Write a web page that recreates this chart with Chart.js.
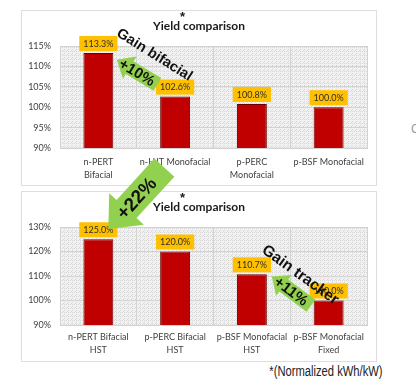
<!DOCTYPE html>
<html>
<head>
<meta charset="utf-8">
<script src="https://cdn.jsdelivr.net/npm/chart.js@4.4.1/dist/chart.umd.min.js"></script>
<style>
  body { margin: 0; background: #fff; width: 416px; height: 388px; overflow: hidden; position: relative; }
  .panel { position: absolute; border: 1px solid #dedede; background: #fff; }
  #panelTop { left: 21px; top: 10px; width: 354px; height: 174px; }
  #panelBot { left: 21px; top: 191px; width: 354px; height: 169px; }
  #overlay { position: absolute; left: 0; top: 0; z-index: 5; pointer-events: none; }
  #note { position: absolute; right: 33px; top: 363px; font: 14px "Liberation Sans", Arial, sans-serif; color: #222;
          transform: scaleX(0.8); transform-origin: right center; white-space: nowrap; }
  #edge { position: absolute; left: 411px; top: 122px; font: 12px "Liberation Sans", Arial, sans-serif; color: #999; }
</style>
</head>
<body>
<div class="panel" id="panelTop"><canvas id="yieldTop"></canvas></div>
<div class="panel" id="panelBot"><canvas id="yieldBot"></canvas></div>
<canvas id="overlay" width="416" height="388"></canvas>
<div id="note">*(Normalized kWh/kW)</div>
<div id="edge">C</div>
<script>
// dados
var categoriasTop = [['n-PERT', 'Bifacial'], 'n-HJT Monofacial', ['p-PERC', 'Monofacial'], 'p-BSF Monofacial'];
var yieldTop = [113.3, 102.6, 100.8, 100.0];
var ticksTop = [90, 95, 100, 105, 110, 115];

var categoriasBot = [['n-PERT Bifacial', 'HST'], ['p-PERC Bifacial', 'HST'], ['p-BSF Monofacial', 'HST'], ['p-BSF Monofacial', 'Fixed']];
var yieldBot = [125.0, 120.0, 110.7, 100.0];
var ticksBot = [90, 100, 110, 120, 130];

var tituloGrafico = 'Yield comparison';

// setas verdes (posicao em unidades de categoria / valor)
var setas = [
    { tail: ['top', 0.77, 105.6], tip: ['top', 0.24, 111.6], shaft: 15, head: 26, headLen: 15, label: '+10%', size: 15 },
    { tail: ['top', 0.86, 85.2], tip: ['bot', 0.13, 129.2], shaft: 27, head: 47, headLen: 27, label: '+22%', size: 19 },
    { tail: ['bot', 2.77, 97.9], tip: ['bot', 2.26, 109.8], shaft: 15, head: 26, headLen: 15, label: '+11%', size: 15 }
];
var textosGanho = [
    { at: ['top', 0.73, 112.8], angle: 32, text: 'Gain bifacial', size: 14.5 },
    { at: ['bot', 2.63, 110.4], angle: 36, text: 'Gain tracker', size: 15.5 }
];

var graficos = {};

var padrao = (function () {
    var c = document.createElement('canvas');
    c.width = 4; c.height = 4;
    var g = c.getContext('2d');
    g.fillStyle = '#f1f1f1';
    g.fillRect(0, 0, 4, 4);
    g.fillStyle = '#d8d8d8';
    g.fillRect(0, 0, 1, 1); g.fillRect(2, 2, 1, 1); g.fillRect(2, 0, 1, 1); g.fillRect(1, 3, 1, 1);
    return g.createPattern(c, 'repeat');
})();

var fundoPlot = {
    id: 'fundoPlot',
    beforeDraw: function (chart) {
        var a = chart.chartArea, ctx = chart.ctx;
        ctx.save();
        ctx.fillStyle = padrao;
        ctx.fillRect(a.left, a.top, a.right - a.left, a.bottom - a.top);
        ctx.restore();
    }
};

var tituloPlugin = {
    id: 'tituloPlugin',
    afterDraw: function (chart) {
        var ctx = chart.ctx;
        ctx.save();
        ctx.font = 'bold 12px Lato';
        ctx.fillStyle = '#1a1a1a';
        ctx.textAlign = 'center';
        ctx.textBaseline = 'middle';
        var cx = chart.width / 2;
        ctx.fillText(tituloGrafico, cx, 15);
        var w = ctx.measureText(tituloGrafico).width;
        var wYield = ctx.measureText('Yield').width;
        ctx.font = 'bold 13px "Liberation Sans"';
        ctx.textAlign = 'left';
        ctx.fillText('*', cx - w / 2 + wYield, 6);
        ctx.restore();
    }
};

var rotulosPlugin = {
    id: 'rotulosPlugin',
    afterDatasetsDraw: function (chart) {
        var ctx = chart.ctx;
        var meta = chart.getDatasetMeta(0);
        var dados = chart.data.datasets[0].data;
        ctx.save();
        ctx.font = '9px Lato';
        ctx.textAlign = 'center';
        ctx.textBaseline = 'middle';
        meta.data.forEach(function (bar, i) {
            var txt = dados[i].toFixed(1) + '%';
            var w = ctx.measureText(txt).width + 8;
            var h = 15;
            var base = bar.y - 2;
            ctx.fillStyle = '#ffc000';
            ctx.fillRect(bar.x - w / 2, base - h, w, h);
            ctx.fillStyle = '#2e2e2e';
            ctx.fillText(txt, bar.x, base - h / 2 + 0.5);
        });
        ctx.restore();
    }
};

function criarGrafico(idCanvas, categorias, valores, ticks, alturaX, alturaLinha, padX) {
    return new Chart(document.getElementById(idCanvas), {
        type: 'bar',
        data: {
            labels: categorias,
            datasets: [{
                data: valores,
                backgroundColor: '#c00000',
                borderColor: '#6e0000',
                borderWidth: 1,
                barPercentage: 0.39,
                categoryPercentage: 1
            }]
        },
        options: {
            responsive: true,
            maintainAspectRatio: false,
            animation: false,
            layout: { padding: { top: 35, right: 9, left: 0, bottom: 0 } },
            plugins: { legend: { display: false }, tooltip: { enabled: false } },
            scales: {
                x: {
                    grid: { color: '#d2d2d2', drawTicks: false },
                    border: { color: '#d2d2d2' },
                    ticks: { color: '#404040', font: { family: 'Lato', size: 9, lineHeight: alturaLinha }, padding: padX, maxRotation: 0, autoSkip: false },
                    afterFit: function (s) { s.height = alturaX; }
                },
                y: {
                    min: ticks[0],
                    max: ticks[ticks.length - 1],
                    afterBuildTicks: function (s) { s.ticks = ticks.map(function (v) { return { value: v }; }); },
                    grid: { color: '#d2d2d2', drawTicks: false },
                    border: { color: '#d2d2d2' },
                    ticks: { color: '#404040', font: { family: 'Lato', size: 9 }, padding: 9,
                        callback: function (v) { return v + '%'; } },
                    afterFit: function (s) { s.width = 38; }
                }
            }
        },
        plugins: [fundoPlot, tituloPlugin, rotulosPlugin]
    });
}

function ponto(ref) {
    var chart = graficos[ref[0]];
    var r = chart.canvas.getBoundingClientRect();
    return { x: r.left + chart.scales.x.getPixelForValue(ref[1]), y: r.top + chart.scales.y.getPixelForValue(ref[2]) };
}

function desenharSeta(ctx, s) {
    var t = ponto(s.tail), p = ponto(s.tip);
    var dx = p.x - t.x, dy = p.y - t.y, len = Math.sqrt(dx * dx + dy * dy);
    var ux = dx / len, uy = dy / len, nx = -uy, ny = ux;
    var bx = p.x - ux * s.headLen, by = p.y - uy * s.headLen;
    ctx.beginPath();
    ctx.moveTo(t.x + nx * s.shaft / 2, t.y + ny * s.shaft / 2);
    ctx.lineTo(bx + nx * s.shaft / 2, by + ny * s.shaft / 2);
    ctx.lineTo(bx + nx * s.head / 2, by + ny * s.head / 2);
    ctx.lineTo(p.x, p.y);
    ctx.lineTo(bx - nx * s.head / 2, by - ny * s.head / 2);
    ctx.lineTo(bx - nx * s.shaft / 2, by - ny * s.shaft / 2);
    ctx.lineTo(t.x - nx * s.shaft / 2, t.y - ny * s.shaft / 2);
    ctx.closePath();
    ctx.fillStyle = '#92d050';
    ctx.fill();

    ctx.save();
    ctx.translate((t.x + p.x) / 2, (t.y + p.y) / 2);
    ctx.rotate(Math.atan2(t.y - p.y, t.x - p.x));
    ctx.font = 'bold ' + s.size + 'px "Liberation Sans"';
    ctx.fillStyle = '#111';
    ctx.textAlign = 'center';
    ctx.textBaseline = 'middle';
    ctx.fillText(s.label, 0, 1);
    ctx.restore();
}

function desenharOverlay() {
    var ctx = document.getElementById('overlay').getContext('2d');
    ctx.clearRect(0, 0, 416, 388);
    setas.forEach(function (s) { desenharSeta(ctx, s); });
    textosGanho.forEach(function (g) {
        var c = ponto(g.at);
        ctx.save();
        ctx.translate(c.x, c.y);
        ctx.rotate(g.angle * Math.PI / 180);
        ctx.font = 'bold ' + g.size + 'px "Liberation Sans"';
        ctx.fillStyle = '#111';
        ctx.textAlign = 'center';
        ctx.textBaseline = 'middle';
        ctx.fillText(g.text, 0, 0);
        ctx.restore();
    });
}

graficos.top = criarGrafico('yieldTop', categoriasTop, yieldTop, ticksTop, 37, 1.4, 8);
graficos.bot = criarGrafico('yieldBot', categoriasBot, yieldBot, ticksBot, 36, 1.45, 6);
desenharOverlay();
</script>
</body>
</html>
